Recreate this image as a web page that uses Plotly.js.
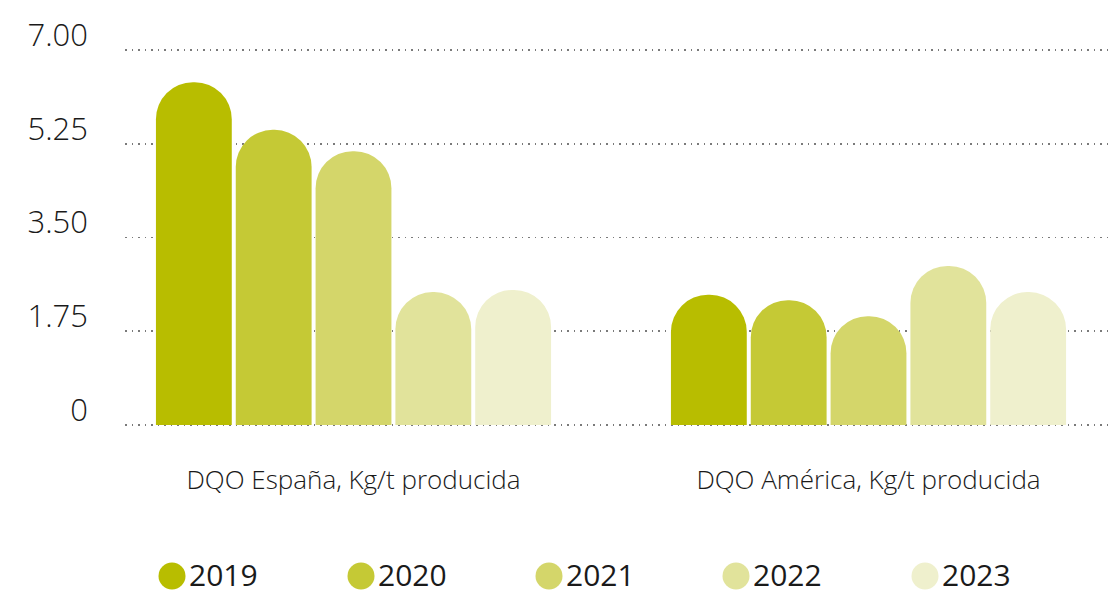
<!DOCTYPE html>
<html>
<head>
<meta charset="utf-8">
<script src="https://cdn.plot.ly/plotly-3.0.1.min.js"></script>
<style>
  html, body { margin: 0; padding: 0; background: #fff; }
  #chart { width: 1112px; height: 595px; }
</style>
</head>
<body>
<div id="chart"></div>
<script>
// ---- data ----
var categories = ["DQO España, Kg/t producida", "DQO América, Kg/t producida"];
var years = ["2019", "2020", "2021", "2022", "2023"];
var values2019 = [6.40, 2.43];
var values2020 = [5.51, 2.33];
var values2021 = [5.11, 2.03];
var values2022 = [2.48, 2.97];
var values2023 = [2.52, 2.48];
var yTickVals = [0, 1.75, 3.5, 5.25, 7];
var yTickText = ["0", "1.75", "3.50", "5.25", "7.00"];

// ---- styles ----
var colors = ["#b8bd00", "#c5c935", "#d4d66a", "#e1e39b", "#eff0cd"];
var seriesValues = [values2019, values2020, values2021, values2022, values2023];
var FONT = "Open Sans, sans-serif";

var traces = years.map(function (yr, i) {
  return {
    type: "bar",
    name: yr,
    x: categories,
    y: seriesValues[i],
    marker: { color: colors[i], cornerradius: "50%", line: { width: 0 } },
    showlegend: false,
    hoverinfo: "x+y+name"
  };
});

// plot area (pixels)
var plotL = 125, plotW = 987, plotT = 49, plotH = 377;
var legendCentersPx = [172, 361, 549, 736, 925];
var legendCircleYpx = 576;
var legendTextYpx = 574;
function px2paperX(px) { return (px - plotL) / plotW; }
function px2paperY(py) { return (plotT + plotH - py) / plotH; }

// custom legend (circles + text)
var shapes = [];
var annotations = [];
years.forEach(function (yr, i) {
  var xc = px2paperX(legendCentersPx[i]);
  shapes.push({
    type: "circle", xref: "paper", yref: "paper",
    xsizemode: "pixel", ysizemode: "pixel",
    xanchor: xc, yanchor: px2paperY(legendCircleYpx),
    x0: -13.5, x1: 13.5, y0: -13.5, y1: 13.5,
    fillcolor: colors[i], line: { width: 0 }
  });
  annotations.push({
    xref: "paper", yref: "paper",
    x: px2paperX(legendCentersPx[i] + 16), y: px2paperY(legendTextYpx),
    xanchor: "left", yanchor: "middle",
    borderpad: 0,
    text: yr, showarrow: false,
    font: { family: FONT, size: 30, color: "#1a1a1a" }
  });
});

var layout = {
  width: 1112, height: 595,
  margin: { l: plotL, r: 1112 - plotL - plotW, t: plotT, b: 595 - plotT - plotH },
  paper_bgcolor: "#ffffff",
  plot_bgcolor: "#ffffff",
  barmode: "group",
  bargap: 0.225,
  bargroupgap: 0.05,
  showlegend: false,
  font: { family: FONT, color: "#1a1a1a" },
  xaxis: {
    type: "category",
    range: [-0.4437, 1.4728],
    showgrid: false, zeroline: false, showline: false,
    ticks: "",
    ticklabelstandoff: 36,
    tickfont: { family: FONT, size: 26, color: "#1a1a1a", weight: 300 }
  },
  yaxis: {
    range: [-0.02, 7.02],
    tickvals: yTickVals,
    ticktext: yTickText,
    showgrid: true,
    gridcolor: "#7a7a7a",
    gridwidth: 1.5,
    griddash: "1.5px,5px",
    zeroline: false, showline: false,
    ticks: "",
    ticklabelstandoff: 36,
    ticklabelshift: -15,
    tickfont: { family: FONT, size: 31, color: "#1a1a1a", weight: 300 }
  },
  shapes: shapes,
  annotations: annotations
};

Plotly.newPlot("chart", traces, layout, { displayModeBar: false, staticPlot: true });
</script>
</body>
</html>
